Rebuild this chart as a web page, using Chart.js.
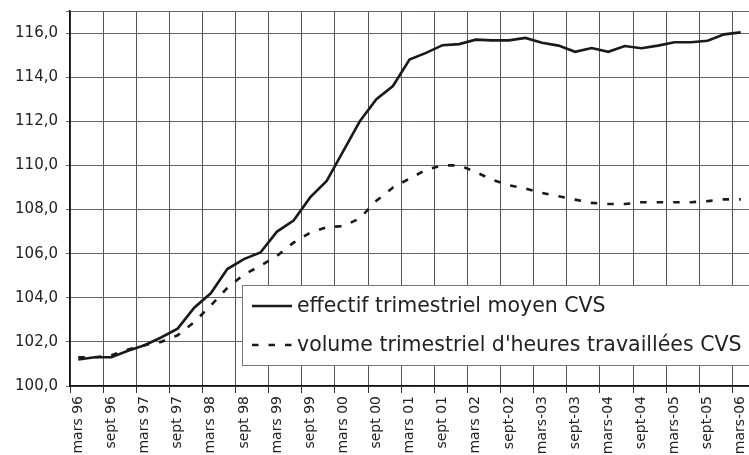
<!DOCTYPE html>
<html>
<head>
<meta charset="utf-8">
<script src="https://cdn.jsdelivr.net/npm/chart.js@4/dist/chart.umd.min.js"></script>
<style>
  html, body { margin: 0; padding: 0; background: #fff; }
  #wrap { width: 749px; height: 455px; }
</style>
</head>
<body>
<div id="wrap"><canvas id="myChart" width="749" height="455"></canvas></div>
<script>
var quarters = ['mars 96','juin 96','sept 96','déc 96','mars 97','juin 97','sept 97','déc 97',
  'mars 98','juin 98','sept 98','déc 98','mars 99','juin 99','sept 99','déc 99',
  'mars 00','juin 00','sept 00','déc 00','mars 01','juin 01','sept 01','déc 01',
  'mars 02','juin 02','sept-02','déc-02','mars-03','juin-03','sept-03','déc-03',
  'mars-04','juin-04','sept-04','déc-04','mars-05','juin-05','sept-05','déc-05','mars-06'];

var effectif = [101.2,101.3,101.3,101.6,101.85,102.2,102.6,103.55,104.2,105.3,105.75,106.05,
  107.0,107.5,108.55,109.3,110.65,112.0,113.0,113.6,114.8,115.1,115.45,115.5,115.7,115.67,
  115.67,115.78,115.56,115.43,115.15,115.32,115.15,115.41,115.31,115.43,115.58,115.58,
  115.65,115.94,116.03];

var volume = [101.3,101.3,101.4,101.65,101.85,102.0,102.3,102.9,103.65,104.45,105.05,105.45,
  105.9,106.5,106.95,107.2,107.25,107.6,108.4,109.0,109.4,109.8,110.0,110.0,109.7,109.35,
  109.1,108.95,108.75,108.6,108.45,108.3,108.25,108.25,108.33,108.33,108.33,108.33,
  108.38,108.46,108.46];

var seriesLabels = ['effectif trimestriel moyen CVS', "volume trimestriel d'heures travaillées CVS"];

// legend box drawn by hand, like the excel one
var boxLegend = {
  id: 'boxLegend',
  afterDraw: function(chart) {
    var c = chart.ctx;
    var x = 242, y = 285, w = 520, h = 80;
    c.save();
    c.fillStyle = '#fff';
    c.fillRect(x, y, w, h);
    c.strokeStyle = '#777';
    c.lineWidth = 1;
    c.strokeRect(x + 0.5, y + 0.5, w, h);
    c.font = '20.5px "DejaVu Sans"';
    c.fillStyle = '#222';
    c.textBaseline = 'middle';
    var rows = [306, 345];
    chart.data.datasets.forEach(function(ds, i) {
      c.strokeStyle = ds.borderColor;
      c.lineWidth = ds.borderWidth;
      c.setLineDash(ds.borderDash || []);
      c.beginPath();
      c.moveTo(252, rows[i]);
      c.lineTo(292, rows[i]);
      c.stroke();
      c.setLineDash([]);
      c.fillText(ds.label, 297, rows[i] + 1);
    });
    c.restore();
  }
};

function everyOther(ctx, col) {
  return (ctx.index % 2 === 0 && ctx.index <= 40) ? col : 'rgba(0,0,0,0)';
}

var ctx = document.getElementById('myChart').getContext('2d');
var myChart = new Chart(ctx, {
  type: 'line',
  data: {
    labels: quarters,
    datasets: [{
      label: seriesLabels[0],
      data: effectif,
      borderColor: '#1a1a1a',
      borderWidth: 2.6,
      pointRadius: 0,
      tension: 0,
      fill: false
    }, {
      label: seriesLabels[1],
      data: volume,
      borderColor: '#1a1a1a',
      borderWidth: 2.6,
      borderDash: [6.5, 10],
      pointRadius: 0,
      tension: 0,
      fill: false
    }]
  },
  options: {
    responsive: false,
    animation: false,
    layout: { padding: { left: 12, top: 11, right: 0, bottom: 0 } },
    plugins: {
      legend: { display: false },
      tooltip: { enabled: false }
    },
    scales: {
      x: {
        offset: true,
        grid: {
          offset: true,
          color: function(c) { return everyOther(c, '#555'); },
          tickColor: function(c) { return everyOther(c, '#333'); },
          tickLength: 7,
          lineWidth: 1
        },
        border: { color: '#111', width: 1.5 },
        ticks: {
          autoSkip: false,
          maxRotation: 90,
          minRotation: 90,
          padding: 3,
          color: '#222',
          font: { family: 'DejaVu Sans', size: 14 },
          callback: function(v, i) { return i % 2 === 0 ? quarters[i] : ''; }
        },
        afterFit: function(s) { s.height = 69; s.paddingLeft = 0; s.paddingRight = 0; }
      },
      y: {
        min: 100,
        max: 117,
        grid: { color: '#666', tickLength: 4, lineWidth: 1 },
        border: { color: '#111', width: 1.5 },
        ticks: {
          stepSize: 2,
          autoSkip: false,
          padding: 8,
          color: '#222',
          font: { family: 'DejaVu Sans', size: 15 },
          callback: function(v) { return v === 117 ? '' : v.toFixed(1).replace('.', ','); }
        },
        afterFit: function(s) { s.width = 58; s.paddingTop = 0; s.paddingBottom = 0; }
      }
    }
  },
  plugins: [boxLegend]
});
</script>
</body>
</html>
